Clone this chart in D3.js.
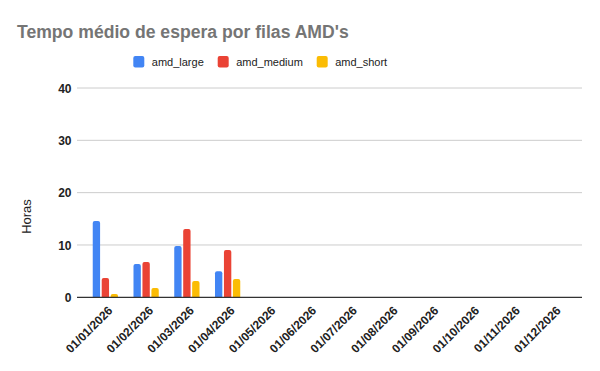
<!DOCTYPE html>
<html><head><meta charset="utf-8">
<script src="https://cdn.jsdelivr.net/npm/d3@7"></script>
<style>body{margin:0;background:#fff}svg{display:block}</style>
</head><body>
<svg id="c" width="600" height="371"></svg>
<script>
const categories = ["01/01/2026","01/02/2026","01/03/2026","01/04/2026","01/05/2026","01/06/2026","01/07/2026","01/08/2026","01/09/2026","01/10/2026","01/11/2026","01/12/2026"];
const seriesNames = ["amd_large","amd_medium","amd_short"];
const amd_large  = [14.6, 6.35, 9.8, 5.0, 0, 0, 0, 0, 0, 0, 0, 0];
const amd_medium = [3.7, 6.75, 13.05, 9.05, 0, 0, 0, 0, 0, 0, 0, 0];
const amd_short  = [0.63, 1.8, 3.1, 3.5, 0, 0, 0, 0, 0, 0, 0, 0];
const colors = ["#4285f4","#ea4335","#fbbc04"];
const yTicks = [0,10,20,30,40];
const title = "Tempo médio de espera por filas AMD's";
const yTitle = "Horas";

const series = [amd_large, amd_medium, amd_short];
const svg = d3.select("#c");
const font = "'Liberation Sans', Arial, sans-serif";

const plotL = 77, plotR = 582, plotT = 88, plotB = 297.3;
const x = d3.scaleBand().domain(categories).range([85, 574]).paddingInner(0.38).paddingOuter(0.19);
const xs = d3.scaleBand().domain(seriesNames).range([0, x.bandwidth()]).paddingInner(0.18);
const y = d3.scaleLinear().domain([0, 40]).range([plotB, plotT]);

// title
svg.append("text").attr("x", 17).attr("y", 38).text(title)
  .attr("font-family", font).attr("font-weight", "bold").attr("font-size", 17.6).attr("fill", "#757575");

// legend
const legX = [133.3, 217.7, 316.7];
seriesNames.forEach((n, i) => {
  svg.append("rect").attr("x", legX[i]).attr("y", 56).attr("width", 11).attr("height", 11.5)
    .attr("rx", 2).attr("fill", colors[i]);
  svg.append("text").attr("x", legX[i] + 18.5).attr("y", 65.8).text(n)
    .attr("font-family", font).attr("font-size", 11).attr("fill", "#222");
});

// gridlines
const g = svg.append("g");
g.selectAll("line.grid").data(yTicks.filter(d => d !== 0)).join("line")
  .attr("x1", plotL).attr("x2", plotR).attr("y1", d => y(d)).attr("y2", d => y(d))
  .attr("stroke", "#cccccc").attr("stroke-width", 1);

// y axis labels
const yAxis = d3.axisLeft(y).tickValues(yTicks).tickSize(0).tickPadding(0).tickFormat(d3.format("d"));
svg.append("g").attr("transform", `translate(71.5,0)`).call(yAxis)
  .call(s => s.select(".domain").remove())
  .selectAll("text").attr("font-family", font).attr("font-weight", "bold").attr("font-size", 12)
  .attr("fill", "#222").attr("dy", "0.36em");

// y title
svg.append("text").attr("transform", `translate(30.5,216.5) rotate(-90)`).attr("text-anchor", "middle")
  .text(yTitle).attr("font-family", font).attr("font-size", 13).attr("fill", "#222");

// bars
function barPath(x0, w, y0, y1) {
  const h = y1 - y0;
  if (h <= 0) return "";
  const r = Math.min(2, w / 2, h);
  return `M${x0},${y1}V${y0 + r}Q${x0},${y0} ${x0 + r},${y0}H${x0 + w - r}Q${x0 + w},${y0} ${x0 + w},${y0 + r}V${y1}Z`;
}
const bars = svg.append("g");
series.forEach((vals, si) => {
  bars.selectAll(null).data(vals.map((v, i) => ({ v, c: categories[i] }))).join("path")
    .attr("d", d => barPath(x(d.c) + xs(seriesNames[si]), xs.bandwidth(), y(d.v), y(0)))
    .attr("fill", colors[si]);
});

// baseline
svg.append("line").attr("x1", plotL).attr("x2", plotR).attr("y1", y(0)).attr("y2", y(0))
  .attr("stroke", "#333").attr("stroke-width", 1.3);

// x labels
const xAxis = d3.axisBottom(x).tickSize(0).tickPadding(0);
const xg = svg.append("g").attr("transform", `translate(2,${plotB + 8})`).call(xAxis);
xg.select(".domain").remove();
xg.selectAll("text").attr("font-family", font).attr("font-weight", "bold").attr("font-size", 12)
  .attr("fill", "#222").attr("text-anchor", "end").attr("dy", "0.7em")
  .attr("transform", "rotate(-45)").attr("x", 0).attr("y", 0);
</script>
</body></html>
